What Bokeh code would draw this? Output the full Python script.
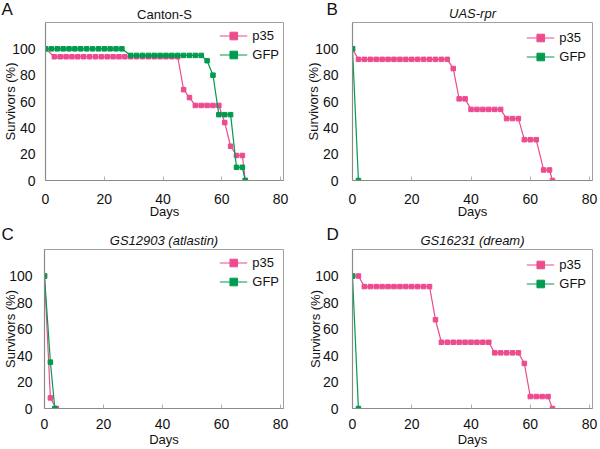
from bokeh.plotting import figure
from bokeh.layouts import column, row
from bokeh.models import FixedTicker, Range1d, Label
from bokeh.embed import file_html
from bokeh.resources import INLINE

# ---------------- data ----------------
x_ticks = [0, 20, 40, 60, 80]
y_ticks = [0, 20, 40, 60, 80, 100]
panel_letters = ["A", "B", "C", "D"]

# A: Canton-S
a_p35_days = [0, 3, 5, 7, 9, 11, 13, 15, 17, 19, 21, 23, 25, 27, 29, 31, 33, 35, 37, 39, 41, 43, 45,
              47, 49, 51, 53, 55, 57, 59, 61, 63, 65, 67, 68]
a_p35_surv = [100, 94, 94, 94, 94, 94, 94, 94, 94, 94, 94, 94, 94, 94, 94, 94, 94, 94, 94, 94, 94, 94, 94,
              69, 63, 57, 57, 57, 57, 57, 44, 26, 19, 19, 0]
a_gfp_days = [0, 2, 4, 6, 8, 10, 12, 14, 16, 18, 20, 22, 24, 26,
              29, 31, 33, 35, 37, 39, 41, 43, 45, 47, 49, 51, 53,
              55, 57, 59, 61, 63, 65, 67, 68]
a_gfp_surv = [100, 100, 100, 100, 100, 100, 100, 100, 100, 100, 100, 100, 100, 100,
              95, 95, 95, 95, 95, 95, 95, 95, 95, 95, 95, 95, 95,
              91, 80, 50, 50, 50, 10, 10, 0]

# B: UAS-rpr
b_p35_days = [0, 2, 4, 6, 8, 10, 12, 14, 16, 18, 20, 22, 24, 26, 28, 30, 32,
              34, 36, 38, 40, 42, 44, 46, 48, 50, 52, 54, 56, 58, 60, 62, 64.5, 66.5, 67.5]
b_p35_surv = [100, 92, 92, 92, 92, 92, 92, 92, 92, 92, 92, 92, 92, 92, 92, 92, 92,
              85, 62, 62, 54, 54, 54, 54, 54, 54, 47, 47, 47, 31, 31, 31, 8, 8, 0]
b_gfp_days = [0, 2]
b_gfp_surv = [100, 0]

# C: GS12903 (atlastin)
c_p35_days = [0, 2, 4]
c_p35_surv = [100, 8, 0]
c_gfp_days = [0, 2, 3.5]
c_gfp_surv = [100, 35, 0]

# D: GS16231 (dream)
d_p35_days = [0, 2, 4, 6, 8, 10, 12, 14, 16, 18, 20, 22, 24, 26,
              28, 30, 32, 34, 36, 38, 40, 42, 44, 46, 48, 50, 52, 54, 56,
              58, 60, 62, 64, 66, 67.5]
d_p35_surv = [100, 100, 92, 92, 92, 92, 92, 92, 92, 92, 92, 92, 92, 92,
              67, 50, 50, 50, 50, 50, 50, 50, 50, 50, 42, 42, 42, 42, 42,
              34, 9, 9, 9, 9, 0]
d_gfp_days = [0, 2]
d_gfp_surv = [100, 0]

# ---------------- style ----------------
PINK = "#EC4B8E"
GREEN = "#009B4E"
FONT = "Liberation Sans"
GRAY = "#a0a0a0"
TXT = "#111111"


def panel(title, italic, p35x, p35y, gfpx, gfpy, width, height, borders,
          ytick_standoff, ylabel_standoff, xtick_standoff, xlabel_standoff,
          title_standoff, legend_margin):
    left, right, top, bottom = borders
    p = figure(width=width, height=height, x_range=Range1d(0, 81), y_range=Range1d(0, 120),
               output_backend="svg", toolbar_location=None,
               min_border_left=left, min_border_right=right,
               min_border_top=top, min_border_bottom=bottom)
    p.title.text = title
    p.title.align = "center"
    p.title.text_font = FONT
    p.title.text_font_size = "13px"
    p.title.text_font_style = "italic" if italic else "normal"
    p.title.text_color = TXT
    p.title.standoff = title_standoff
    p.outline_line_color = GRAY
    p.outline_line_width = 1
    p.grid.visible = False

    p.line(p35x, p35y, color=PINK, line_width=1.2, legend_label="p35")
    p.scatter(p35x, p35y, marker="square", size=4.5, color=PINK, legend_label="p35")
    p.line(gfpx, gfpy, color=GREEN, line_width=1.2, legend_label="GFP")
    p.scatter(gfpx, gfpy, marker="square", size=4.5, color=GREEN, legend_label="GFP")

    p.xaxis.ticker = FixedTicker(ticks=x_ticks)
    p.yaxis.ticker = FixedTicker(ticks=y_ticks)
    for ax in (p.xaxis, p.yaxis):
        ax.axis_line_color = "#8a8a8a"
        ax.axis_line_width = 1.2
        ax.major_label_text_font = FONT
        ax.major_label_text_font_size = "14px"
        ax.major_label_text_color = TXT
        ax.axis_label_text_font = FONT
        ax.axis_label_text_font_size = "13px"
        ax.axis_label_text_font_style = "normal"
        ax.axis_label_text_color = TXT
        ax.minor_tick_line_color = None
    p.xaxis.axis_label = "Days"
    p.yaxis.axis_label = "Survivors (%)"
    p.xaxis.major_tick_in = 4
    p.xaxis.major_tick_out = 0
    p.xaxis.major_tick_line_color = "#b0b0b0"
    p.xaxis.major_label_standoff = xtick_standoff
    p.xaxis.axis_label_standoff = xlabel_standoff
    p.yaxis.major_tick_line_color = None
    p.yaxis.major_label_standoff = ytick_standoff
    p.yaxis.axis_label_standoff = ylabel_standoff

    lg = p.legend[0]
    lg.location = "top_right"
    lg.border_line_color = None
    lg.background_fill_alpha = 0
    lg.label_text_font = FONT
    lg.label_text_font_size = "13px"
    lg.label_text_color = TXT
    lg.glyph_width = 28
    lg.glyph_height = 19
    lg.label_height = 19
    lg.label_standoff = 5
    lg.spacing = 0
    lg.padding = 3
    lg.margin = legend_margin
    return p


pA = panel("Canton-S", False, a_p35_days, a_p35_surv, a_gfp_days, a_gfp_surv,
           300, 225, (44, 17, 21, 45), 4, -9, 13, -3, 2, 4)
pB = panel("UAS-rpr", True, b_p35_days, b_p35_surv, b_gfp_days, b_gfp_surv,
           300, 225, (52, 8, 22, 45), 8, -9, 13, -3, 3, 6)
pC = panel("GS12903 (atlastin)", True, c_p35_days, c_p35_surv, c_gfp_days, c_gfp_surv,
           300, 224, (43, 17, 24, 41), 6, -12, 10, 0, 3, 4)
pD = panel("GS16231 (dream)", True, d_p35_days, d_p35_surv, d_gfp_days, d_gfp_surv,
           300, 224, (52, 8, 23, 41), 8, -11, 10, 0, 3, 6)

# transparent overlay (pulled up over the four panels) carrying the panel letters
ov = figure(width=600, height=449, x_range=Range1d(0, 600), y_range=Range1d(0, 449),
            output_backend="svg", toolbar_location=None,
            min_border_left=0, min_border_right=0, min_border_top=0, min_border_bottom=0,
            x_axis_location=None, y_axis_location=None)
ov.grid.visible = False
ov.outline_line_color = None
ov.background_fill_color = None
ov.border_fill_color = None
ov.margin = (-449, 0, 0, 0)
letter_x = [1, 326, 1, 326]
letter_top = [-1, -1, 224, 224]
for t, lx, lt in zip(panel_letters, letter_x, letter_top):
    ov.add_layout(Label(x=lx, y=449 - lt, x_units="screen", y_units="screen", text=t,
                        text_font=FONT, text_font_size="17px", text_baseline="top",
                        text_color=TXT))

layout = column(row(pA, pB), row(pC, pD), ov)
open("out.html", "w").write(file_html(layout, INLINE))
